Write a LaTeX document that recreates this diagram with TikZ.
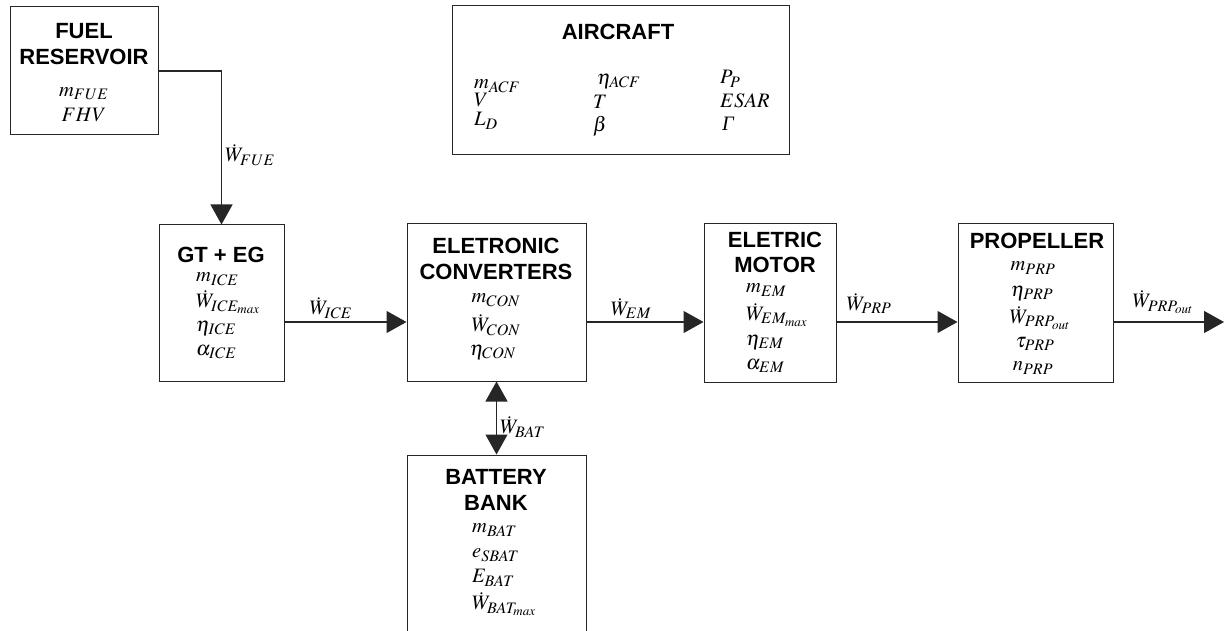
\documentclass[tikz,border=0pt]{standalone}
\usepackage{mathptmx}
\usepackage{fontspec}
\setmainfont{Liberation Sans}
\newfontfamily\tnrfont{Liberation Serif}
\DeclareMathSizes{20.5}{20.5}{16}{13}
\usetikzlibrary{arrows.meta,calc}
\tikzset{
  blk/.style={draw=black!85, line width=1pt, inner sep=0pt},
  ttl/.style={font=\fontsize{22}{25}\selectfont\bfseries, align=center, inner sep=0pt},
  var/.style={font=\fontsize{20.5}{23}\selectfont, inner sep=0pt},
  arr/.style={draw=black!85, line width=1.2pt, -{Triangle[length=20pt,width=22pt]}},
  darr/.style={draw=black!85, line width=1.2pt, {Triangle[length=20pt,width=22pt]}-{Triangle[length=20pt,width=22pt]}}
}
\begin{document}
\begin{tikzpicture}[x=1pt,y=-1pt]
\useasboundingbox (0,0) rectangle (1227,631);
% boxes
\node[blk, minimum width=148pt, minimum height=128pt] (fuel) at (84,71) {};
\node[blk, minimum width=337pt, minimum height=149pt] (acf) at (620.5,80.5) {};
\node[blk, minimum width=125pt, minimum height=156pt] (gt) at (221.5,303) {};
\node[blk, minimum width=179pt, minimum height=157pt] (conv) at (496.5,302.5) {};
\node[blk, minimum width=132pt, minimum height=158pt] (mot) at (770,303) {};
\node[blk, minimum width=155pt, minimum height=158pt] (prop) at (1035.5,303) {};
\node[blk, minimum width=179pt, minimum height=185pt] (bat) at (496.5,547.5) {};
% fuel
\node[ttl] (fuelt1) at (84,31) {FUEL};
\node[ttl] (fuelt2) at (84,57) {RESERVOIR};
\node[var] (fuelv1) at (84,94) {$m_{FUE}$};
\node[var] (fuelv2) at (84,115) {$FHV$};
% aircraft
\node[ttl] (acft) at (618,32) {AIRCRAFT};
\node[var, anchor=west] (a11) at (474,86) {$m_{ACF}$};
\node[var, anchor=west] (a12) at (474,100) {$V$};
\node[var, anchor=west] (a13) at (474,121) {$L_D$};
\node[var, anchor=west] (a21) at (597,81) {$\eta_{ACF}$};
\node[var, anchor=west] (a22) at (593,102) {$T$};
\node[var, anchor=west] (a23) at (593,126) {$\beta$};
\node[var, anchor=west] (a31) at (720,79) {$P_P$};
\node[var, anchor=west] (a32) at (720,101) {$ESAR$};
\node[var, anchor=west] (a33) at (722,124) {\tnrfont\itshape Γ};
% GT
\node[ttl] (gtt) at (221,255) {GT + EG};
\node[var, anchor=west] (g1) at (196,279) {$m_{ICE}$};
\node[var, anchor=west] (g2) at (196,302) {$\dot{W}_{ICE_{max}}$};
\node[var, anchor=west] (g3) at (196,328) {$\eta_{ICE}$};
\node[var, anchor=west] (g4) at (196,352) {$\alpha_{ICE}$};
% converters
\node[ttl] (ct1) at (496,246) {ELETRONIC};
\node[ttl] (ct2) at (496,272) {CONVERTERS};
\node[var] (c1) at (496,300) {$m_{CON}$};
\node[var] (c2) at (496,325) {$\dot{W}_{CON}$};
\node[var] (c3) at (493,352) {$\eta_{CON}$};
% motor
\node[ttl] (mt1) at (775,240) {ELETRIC};
\node[ttl] (mt2) at (775,265) {MOTOR};
\node[var, anchor=west] (m1) at (746,290) {$m_{EM}$};
\node[var, anchor=west] (m2) at (746,315) {$\dot{W}_{EM_{max}}$};
\node[var, anchor=west] (m3) at (746,342) {$\eta_{EM}$};
\node[var, anchor=west] (m4) at (746,366) {$\alpha_{EM}$};
% propeller
\node[ttl] (pt) at (1037,241) {PROPELLER};
\node[var] (p1) at (1033,268) {$m_{PRP}$};
\node[var] (p2) at (1032,293) {$\eta_{PRP}$};
\node[var] (p3) at (1040,318) {$\dot{W}_{PRP_{out}}$};
\node[var] (p4) at (1035,344) {$\tau_{PRP}$};
\node[var] (p5) at (1033,368) {$n_{PRP}$};
% battery
\node[ttl] (bt1) at (496,477) {BATTERY};
\node[ttl] (bt2) at (496,503) {BANK};
\node[var, anchor=west] (b1) at (472,530) {$m_{BAT}$};
\node[var, anchor=west] (b2) at (472,555) {$e_{SBAT}$};
\node[var, anchor=west] (b3) at (472,578) {$E_{BAT}$};
\node[var, anchor=west] (b4) at (472,604) {$\dot{W}_{BAT_{max}}$};
% connectors
\coordinate (ly) at (0,322);
\draw[arr] (fuel.east) -| (gt.north);
\draw[arr] (gt.east |- ly) -- (conv.west |- ly);
\draw[arr] (conv.east |- ly) -- (mot.west |- ly);
\draw[arr] (mot.east |- ly) -- (prop.west |- ly);
\coordinate (out) at (1224,322);
\draw[arr] (prop.east |- ly) -- (out);
\draw[darr] (conv.south) -- (bat.north);
% connector labels
\node[var, anchor=west] (lfue) at (225,155) {$\dot{W}_{FUE}$};
\node[var, anchor=south] (lice) at (331,319) {$\dot{W}_{ICE}$};
\node[var, anchor=south] (lem) at (631,319) {$\dot{W}_{EM}$};
\node[var, anchor=south] (lprp) at (869,314) {$\dot{W}_{PRP}$};
\node[var, anchor=south] (lout) at (1163,314) {$\dot{W}_{PRP_{out}}$};
\node[var, anchor=west] (lbat) at (500,427) {$\dot{W}_{BAT}$};
\end{tikzpicture}
\end{document}
